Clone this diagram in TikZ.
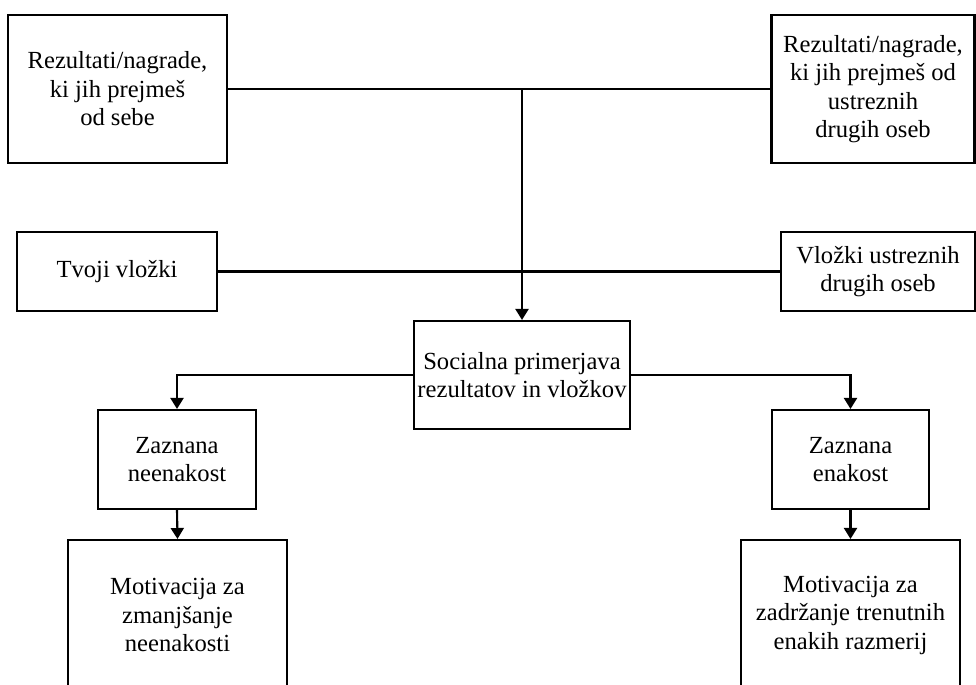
\documentclass[tikz,border=0pt]{standalone}
\usepackage{fontspec}
\setmainfont{Liberation Serif}
\usetikzlibrary{arrows.meta}
\begin{document}
\begin{tikzpicture}[x=0.02cm,y=-0.02cm,
  box/.style={draw, line width=1.2pt, align=center, inner sep=0pt,
    font=\fontsize{14}{16.2}\selectfont},
  conn/.style={line width=1.2pt},
  arr/.style={conn, -{Triangle[width=0.26cm,length=0.22cm]}}]
\useasboundingbox (0,0) rectangle (976,684);
\clip (0,0) rectangle (976,684);
\node[box, minimum width=4.38cm, minimum height=2.96cm] (tl) at (117.5,89)
  {Rezultati/nagrade,\\ ki jih prejmeš\\ od sebe};
\node[box, minimum width=4.06cm, minimum height=2.96cm] (tr) at (873,89)
  {Rezultati/nagrade,\\ ki jih prejmeš od\\ ustreznih\\ drugih oseb};
\node[box, minimum width=4.0cm, minimum height=1.58cm] (ml) at (117,271.5)
  {Tvoji vložki};
\node[box, minimum width=3.88cm, minimum height=1.58cm] (mr) at (878,271.5)
  {Vložki ustreznih\\ drugih oseb};
\node[box, minimum width=4.32cm, minimum height=2.16cm] (soc) at (522,375)
  {Socialna primerjava\\ rezultatov in vložkov};
\node[box, minimum width=3.16cm, minimum height=1.98cm] (zn) at (177,459.5)
  {Zaznana\\ neenakost};
\node[box, minimum width=3.14cm, minimum height=1.98cm] (ze) at (850.5,459.5)
  {Zaznana\\ enakost};
\node[box, minimum width=4.38cm, minimum height=3.0cm] (bl) at (177.5,615)
  {Motivacija za\\ zmanjšanje\\ neenakosti};
\node[box, minimum width=4.38cm, minimum height=3.0cm] (br) at (850.5,615)
  {Motivacija za\\ zadržanje trenutnih\\ enakih razmerij};
\draw[conn] (tl.east) -- (tr.west);
\draw[conn] (ml.east) -- (mr.west);
\draw[arr] (tl.east -| soc.north) -- (soc.north);
\draw[arr] (soc.west) -| (zn.north);
\draw[arr] (soc.east) -| (ze.north);
\draw[arr] (zn.south) -- (bl.north);
\draw[arr] (ze.south) -- (br.north);
\end{tikzpicture}
\end{document}
